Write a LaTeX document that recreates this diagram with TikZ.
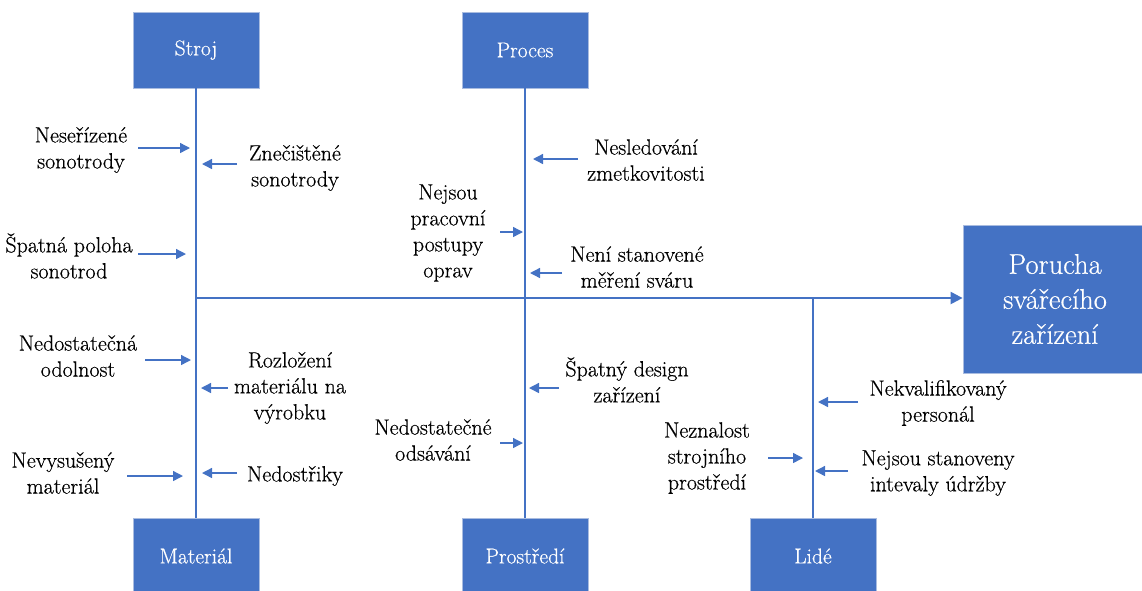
\documentclass[tikz,border=0pt]{standalone}
\usepackage{fontspec}
\newfontfamily\lmheavy{Latin Modern Roman}[FakeBold=0.5]
\usetikzlibrary{arrows.meta}
\definecolor{obl}{HTML}{4472C4}
\definecolor{bord}{HTML}{A9BCE0}
\tikzset{
  catbox/.style={draw=bord, line width=0.8pt, fill=obl, text=white, minimum width=126pt, minimum height=76pt, inner sep=0pt, font=\lmheavy\fontsize{21.5}{23}\selectfont},
  effbox/.style={draw=bord, line width=0.8pt, fill=obl, text=white, minimum width=184pt, minimum height=148pt, inner sep=0pt, align=center, font=\lmheavy\fontsize{28.5}{35}\selectfont},
  spine/.style={draw=obl, line width=1.6pt},
  mainline/.style={draw=obl, line width=2.2pt, -{Triangle[length=12pt,width=12pt]}},
  causetxt/.style={align=center, inner sep=0pt, font=\lmheavy\fontsize{22}{26}\selectfont, text=black},
  causearr/.style={draw=obl, line width=1.4pt, -{Triangle[length=10pt,width=10pt]}},
}
% name, text position, text, arrow start x, arrow end x, arrow y
\newcommand\causeitem[6]{%
  \node[causetxt] (#1) at (#2) {#3};
  \coordinate (#1s) at (#4,#6);
  \coordinate (#1e) at (#5,#6);
  \draw[causearr] (#1s) -- (#1e);
}
\begin{document}
\begin{tikzpicture}[x=1pt,y=-1pt]
\useasboundingbox (0,0) rectangle (1142,590);
\begin{scope}
\clip (0,0) rectangle (1142,590);
\node[catbox] (stroj) at (196,50) {Stroj};
\node[catbox] (proces) at (525,50) {Proces};
\node[catbox] (material) at (196,556) {Materiál};
\node[catbox] (prostredi) at (525,556) {Prostředí};
\node[catbox] (lide) at (813,556) {Lidé};
\node[effbox] (effect) at (1055,299) {Porucha\\svářecího\\zařízení};
\coordinate (mstart) at (196,298);
\draw[mainline] (mstart) -- (effect.west |- mstart);
\draw[spine] (stroj.south) -- (stroj.south |- mstart);
\draw[spine] (proces.south) -- (proces.south |- mstart);
\draw[spine] (material.north) -- (material.north |- mstart);
\draw[spine] (prostredi.north) -- (prostredi.north |- mstart);
\draw[spine] (lide.north) -- (lide.north |- mstart);
\end{scope}
\causeitem{c1}{81,150}{Neseřízené\\sonotrody}{138}{190}{148}
\causeitem{c2}{295,168}{Znečištěné\\sonotrody}{237}{202}{164}
\causeitem{c3}{69,256}{Špatná poloha\\sonotrod}{138}{186}{254}
\causeitem{c4}{646,160}{Nesledování\\zmetkovitosti}{578}{533}{159}
\causeitem{c5}{448,233}{Nejsou\\pracovní\\postupy\\oprav}{500}{523}{232}
\causeitem{c6}{637,267}{Není stanovené\\měření sváru}{562}{530}{273}
\causeitem{c7}{78,356}{Nedostatečná\\odolnost}{145}{191}{360}
\causeitem{c8}{290,388}{Rozložení\\materiálu na\\výrobku}{228}{201}{388}
\causeitem{c9}{63,473}{Nevysušený\\materiál}{127}{183}{476}
\causeitem{c10}{295,476}{Nedostřiky}{237}{202}{473}
\causeitem{c11}{627,380}{Špatný design\\zařízení}{559}{529}{388}
\causeitem{c12}{433,440}{Nedostatečné\\odsávání}{500}{523}{443}
\causeitem{c13}{938,403}{Nekvalifikovaný\\personál}{858}{818}{402}
\causeitem{c14}{707,458}{Neznalost\\strojního\\prostředí}{768}{803}{458}
\causeitem{c15}{938,473}{Nejsou stanoveny\\intevaly údržby}{848}{815}{471}
\end{tikzpicture}
\end{document}
